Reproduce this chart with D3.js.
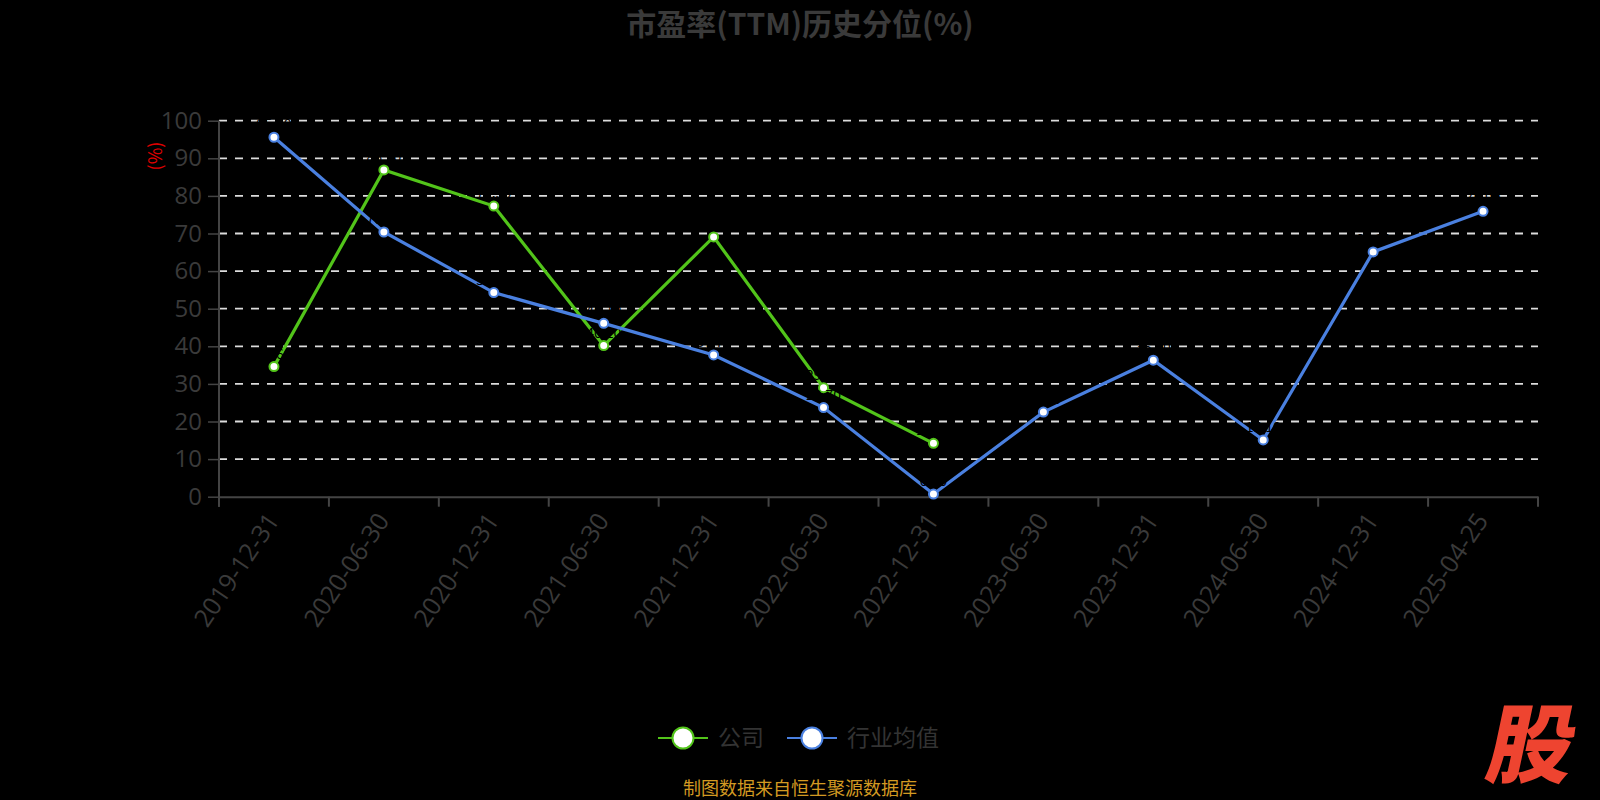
<!DOCTYPE html>
<html>
<head>
<meta charset="utf-8">
<script src="https://cdn.jsdelivr.net/npm/d3@7"></script>
<style>
  html, body { margin: 0; padding: 0; background: #000; }
  svg { display: block; font-family: 'Noto Sans CJK SC', 'Open Sans', sans-serif; }
</style>
</head>
<body>
<div id="chart"></div>
<script>
// chart data
const dates = ['2019-12-31', '2020-06-30', '2020-12-31', '2021-06-30', '2021-12-31', '2022-06-30',
  '2022-12-31', '2023-06-30', '2023-12-31', '2024-06-30', '2024-12-31', '2025-04-25'];
const companyValues = [34.6, 86.9, 77.3, 40.2, 69.1, 29.0, 14.2, null, null, null, null, null];
const industryValues = [95.6, 70.4, 54.3, 46.1, 37.7, 23.7, 0.7, 22.5, 36.3, 15.1, 65.1, 75.9];
const yTicks = [0, 10, 20, 30, 40, 50, 60, 70, 80, 90, 100];
const seriesNames = ['公司', '行业均值'];

const width = 1600;
const height = 800;
const margin = {top: 120.7, right: 62, bottom: 303.3, left: 219};
const innerW = width - margin.left - margin.right;
const innerH = height - margin.top - margin.bottom;

const colors = {company: '#52c41a', industry: '#4a80e0'};

const svg = d3.select('#chart')
    .append('svg')
    .attr('width', width)
    .attr('height', height);

svg.append('rect')
    .attr('width', width)
    .attr('height', height)
    .attr('fill', '#000');

// title
svg.append('text')
    .attr('x', 800)
    .attr('y', 35)
    .attr('text-anchor', 'middle')
    .style('font-size', '30px')
    .style('font-weight', 'bold')
    .style('fill', '#3a3a3a')
    .text('市盈率(TTM)历史分位(%)');

const g = svg.append('g')
    .attr('transform', `translate(${margin.left}, ${margin.top})`);

const xScale = d3.scaleBand()
    .domain(dates)
    .range([0, innerW]);

const yScale = d3.scaleLinear()
    .domain([0, 100])
    .range([innerH, 0]);

// grid lines
g.append('g')
    .selectAll('line')
    .data(yTicks.filter((d) => d > 0))
    .enter()
    .append('line')
    .attr('x1', 0)
    .attr('x2', innerW)
    .attr('y1', (d) => yScale(d))
    .attr('y2', (d) => yScale(d))
    .attr('stroke', '#dcdcdc')
    .attr('stroke-width', 1.8)
    .attr('stroke-dasharray', '8 8');

// y axis
const yAxis = g.append('g')
    .call(d3.axisLeft(yScale).tickValues(yTicks).tickSize(11).tickPadding(6));
yAxis.select('.domain').remove();
yAxis.selectAll('.tick line').attr('stroke', '#444').attr('stroke-width', 1.5);
yAxis.selectAll('text')
    .style('font-size', '24px')
    .style('font-family', "'Open Sans', sans-serif")
    .style('fill', '#3a3a3a');
g.append('line')
    .attr('x1', 0).attr('x2', 0)
    .attr('y1', 0).attr('y2', innerH + 10)
    .attr('stroke', '#444')
    .attr('stroke-width', 2);

svg.append('text')
    .attr('transform', `translate(162, 156) rotate(-90)`)
    .attr('text-anchor', 'middle')
    .style('font-size', '18px')
    .style('fill', '#e00000')
    .text('(%)');

// x axis
const xAxis = g.append('g')
    .attr('transform', `translate(0, ${innerH})`)
    .call(d3.axisBottom(xScale).tickSize(0).tickPadding(0));
xAxis.select('.domain').attr('stroke', '#444').attr('stroke-width', 2);
xAxis.selectAll('text')
    .attr('text-anchor', 'end')
    .attr('dy', '0.35em')
    .attr('transform', 'translate(-1, 19) rotate(-56)')
    .style('font-size', '25px')
    .style('font-family', "'Open Sans', sans-serif")
    .style('fill', '#3a3a3a');

// band boundary ticks
g.append('g')
    .selectAll('line')
    .data(d3.range(dates.length + 1))
    .enter()
    .append('line')
    .attr('x1', (i) => i * xScale.step())
    .attr('x2', (i) => i * xScale.step())
    .attr('y1', innerH)
    .attr('y2', innerH + 10)
    .attr('stroke', '#444')
    .attr('stroke-width', 2);

const xPos = (d) => xScale(d.date) + xScale.bandwidth() / 2;

const drawSeries = (values, color) => {
  const points = dates.map((date, i) => ({date: date, value: values[i]}))
      .filter((d) => d.value !== null);
  const line = d3.line()
      .x(xPos)
      .y((d) => yScale(d.value));
  g.append('path')
      .datum(points)
      .attr('fill', 'none')
      .attr('stroke', color)
      .attr('stroke-width', 3.2)
      .attr('d', line);
  // data labels (black on black, like the source)
  g.append('g')
      .selectAll('text')
      .data(points)
      .enter()
      .append('text')
      .attr('x', xPos)
      .attr('y', (d) => yScale(d.value) - 8)
      .attr('text-anchor', 'middle')
      .style('font-size', '14px')
      .style('fill', '#000')
      .text((d) => d.value.toFixed(2));
  g.append('g')
      .selectAll('circle')
      .data(points)
      .enter()
      .append('circle')
      .attr('cx', xPos)
      .attr('cy', (d) => yScale(d.value))
      .attr('r', 4.5)
      .attr('fill', '#fff')
      .attr('stroke', color)
      .attr('stroke-width', 2);
};

drawSeries(companyValues, colors.company);
drawSeries(industryValues, colors.industry);

// legend
const legendItems = [
  {name: seriesNames[0], color: colors.company, x: 658},
  {name: seriesNames[1], color: colors.industry, x: 787},
];
const legend = svg.append('g').attr('transform', 'translate(0, 738)');
legendItems.forEach((item) => {
  legend.append('line')
      .attr('x1', item.x).attr('x2', item.x + 50)
      .attr('y1', 0).attr('y2', 0)
      .attr('stroke', item.color)
      .attr('stroke-width', 2);
  legend.append('circle')
      .attr('cx', item.x + 25)
      .attr('cy', 0)
      .attr('r', 10.5)
      .attr('fill', '#fff')
      .attr('stroke', item.color)
      .attr('stroke-width', 2);
  legend.append('text')
      .attr('x', item.x + 60)
      .attr('y', 0)
      .attr('dy', '0.35em')
      .style('font-size', '23px')
      .style('fill', '#333')
      .text(item.name);
});

// source note
svg.append('text')
    .attr('x', 800)
    .attr('y', 795)
    .attr('text-anchor', 'middle')
    .style('font-size', '18px')
    .style('fill', '#d39a22')
    .text('制图数据来自恒生聚源数据库');

// logo
svg.append('text')
    .attr('transform', 'translate(1526, 776) skewX(-12)')
    .attr('text-anchor', 'middle')
    .style('font-size', '86px')
    .style('font-weight', '900')
    .style('fill', '#ee4430')
    .text('股');
</script>
</body>
</html>
